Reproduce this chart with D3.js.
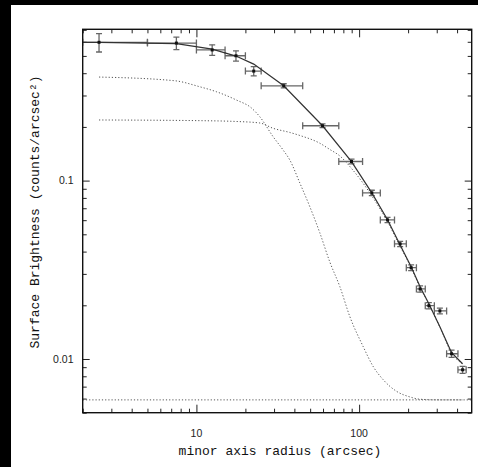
<!DOCTYPE html>
<html><head><meta charset="utf-8">
<script src="https://cdn.jsdelivr.net/npm/d3@7"></script>
<style>html,body{margin:0;padding:0;background:#000;}svg{display:block;}</style>
</head><body>
<svg id="c" width="478" height="467"></svg>
<script>
// ---- data ----
const xData = [2.52, 7.53, 12.5, 17.5, 22.5, 34.4, 59.6, 89.8, 119.7, 149.5, 178.7, 208.8, 237, 268.3, 313.6, 370, 432.5];
const xLo   = [2, 5, 10, 15, 20, 25, 45, 75, 105, 135, 165, 195, 225, 255, 290, 345, 405];
const xHi   = [5, 10, 15, 20, 25, 45, 75, 105, 135, 165, 195, 225, 255, 290, 345, 405, 455];
const yData = [0.596, 0.59, 0.540, 0.501, 0.411, 0.340, 0.203, 0.128, 0.0853, 0.0602, 0.0442, 0.0325, 0.0247, 0.0199, 0.0186, 0.0107, 0.0087];
const yErr  = [0.07, 0.048, 0.037, 0.033, 0.025, 0.009, 0.005, 0.004, 0.003, 0.002, 0.0015, 0.0012, 0.001, 0.0008, 0.0007, 0.0005, 0.0004];

const modelX     = [2, 2.52, 7.53, 12.5, 17.5, 22.5, 34.4, 59.6, 89.8, 119.7, 149.5, 178.7, 208.8, 237, 268.3, 313.6, 370, 432.5];
const modelTotal = [0.5955, 0.5955, 0.586, 0.546, 0.499, 0.450, 0.340, 0.203, 0.1278, 0.0853, 0.0603, 0.0436, 0.0329, 0.0254, 0.0204, 0.01517, 0.01084, 0.00941];

const coreX = [2.52, 7.36, 10.47, 13.27, 17.62, 21.79, 24.51, 29.59, 34.09, 37.48, 43.18, 49.75, 57.33, 66.04, 76.08, 87.66, 105.8, 121.9, 140.5, 169.8, 205.0, 236.2, 313.5, 434.3];
const coreY = [0.3806, 0.3629, 0.3359, 0.3149, 0.2829, 0.2553, 0.2282, 0.1764, 0.1485, 0.1306, 0.0971, 0.0715, 0.0510, 0.0350, 0.0255, 0.0173, 0.01176, 0.00909, 0.00766, 0.00659, 0.00613, 0.00595, 0.0059, 0.0059];

const envX = [2.52, 10.47, 17.62, 24.51, 29.59, 37.48, 43.18, 57.33, 66.04, 76.08, 89.8, 119.7, 149.5, 178.7, 208.8, 237, 268.3, 313.6, 370, 432.5];
const envY = [0.2187, 0.2168, 0.2145, 0.2104, 0.1965, 0.1862, 0.1791, 0.1620, 0.1495, 0.1375, 0.1170, 0.0821, 0.0588, 0.0428, 0.0325, 0.0252, 0.0203, 0.0151, 0.0108, 0.0094];

const bgLevel = 0.0059;

const xTickLabels = ["10", "100"];
const yTickLabels = ["0.01", "0.1"];
const xTitle = "minor axis radius (arcsec)";
const yTitle = "Surface Brightness (counts/arcsec\u00B2)";

// ---- layout ----
const svg = d3.select("#c");
svg.append("rect").attr("x", 11).attr("y", 5).attr("width", 467).attr("height", 462).attr("fill", "#fff");

const L = 82.7, R = 471.7, T = 29.3, B = 412.7;
const x = d3.scaleLog().domain([2, 492]).range([L, R]);
const y = d3.scaleLog().domain([0.005, 0.705]).range([B, T]);

const isMajor = v => Math.abs(Math.log10(v) - Math.round(Math.log10(v))) < 1e-9;
const xt = x.ticks();
const yt = y.ticks();
const xMaj = xt.filter(isMajor), xMin = xt.filter(v => !isMajor(v));
const yMaj = yt.filter(isMajor), yMin = yt.filter(v => !isMajor(v));

function ax(gen, scale, vals, size, tx, ty) {
  const g = svg.append("g").attr("transform", `translate(${tx},${ty})`)
    .call(gen(scale).tickValues(vals).tickSizeInner(-size).tickSizeOuter(0).tickFormat(""));
  g.select(".domain").remove();
  g.selectAll("line").attr("stroke", "#222").attr("stroke-width", 1);
  return g;
}
ax(d3.axisBottom, x, xMaj, 8, 0, B); ax(d3.axisBottom, x, xMin, 4, 0, B);
ax(d3.axisTop, x, xMaj, 8, 0, T);    ax(d3.axisTop, x, xMin, 4, 0, T);
ax(d3.axisLeft, y, yMaj, 7, L, 0);   ax(d3.axisLeft, y, yMin, 4, L, 0);
ax(d3.axisRight, y, yMaj, 7, R, 0);  ax(d3.axisRight, y, yMin, 4, R, 0);

// tick labels
svg.append("g").selectAll("text").data(xMaj).join("text")
  .attr("x", d => x(d)).attr("y", 437).attr("text-anchor", "middle")
  .attr("font-family", "Liberation Sans, Arial, sans-serif").attr("font-size", 10.5).attr("fill", "#222")
  .text((d, i) => xTickLabels[i]);
svg.append("g").selectAll("text").data(yMaj).join("text")
  .attr("x", 73.5).attr("y", d => y(d)).attr("dy", "0.36em").attr("text-anchor", "end")
  .attr("font-family", "Liberation Sans, Arial, sans-serif").attr("font-size", 10.5).attr("fill", "#222")
  .text((d, i) => yTickLabels[i]);

// titles
svg.append("text").attr("x", 280).attr("y", 455).attr("text-anchor", "middle")
  .attr("font-family", "Liberation Mono, monospace").attr("font-size", 13).attr("fill", "#111").text(xTitle);
svg.append("text").attr("transform", "translate(38.5,212) rotate(-90)").attr("text-anchor", "middle")
  .attr("font-family", "Liberation Mono, monospace").attr("font-size", 13).attr("fill", "#111").text(yTitle);

// clip
svg.append("clipPath").attr("id", "clp").append("rect").attr("x", L).attr("y", T).attr("width", R - L).attr("height", B - T);
const plot = svg.append("g").attr("clip-path", "url(#clp)");

// dotted components
const dotted = (xs, ys) => d3.line().x((d, i) => x(xs[i])).y((d, i) => y(ys[i])).curve(d3.curveMonotoneX)(xs);
plot.append("path").attr("d", d3.line()([[x(2), y(bgLevel)], [x(492), y(bgLevel)]]))
  .attr("fill", "none").attr("stroke", "#555").attr("stroke-width", 1).attr("stroke-dasharray", "1.2,2");
plot.append("path").attr("d", dotted(coreX, coreY))
  .attr("fill", "none").attr("stroke", "#555").attr("stroke-width", 1).attr("stroke-dasharray", "1.2,2");
plot.append("path").attr("d", dotted(envX, envY))
  .attr("fill", "none").attr("stroke", "#555").attr("stroke-width", 1).attr("stroke-dasharray", "1.2,2");

// error bars
const eb = plot.append("g").attr("stroke", "#666").attr("stroke-width", 1.3).attr("fill", "none");
xData.forEach((xv, i) => {
  const cx = x(xv), cy = y(yData[i]);
  const x0 = x(xLo[i]), x1 = x(xHi[i]);
  const y0 = y(yData[i] - yErr[i]), y1 = y(yData[i] + yErr[i]);
  eb.append("line").attr("x1", x0).attr("x2", x1).attr("y1", cy).attr("y2", cy);
  eb.append("line").attr("x1", x0).attr("x2", x0).attr("y1", cy - 3.5).attr("y2", cy + 3.5);
  eb.append("line").attr("x1", x1).attr("x2", x1).attr("y1", cy - 3.5).attr("y2", cy + 3.5);
  eb.append("line").attr("x1", cx).attr("x2", cx).attr("y1", y0).attr("y2", y1);
  eb.append("line").attr("x1", cx - 3).attr("x2", cx + 3).attr("y1", y0).attr("y2", y0);
  eb.append("line").attr("x1", cx - 3).attr("x2", cx + 3).attr("y1", y1).attr("y2", y1);
});

// model line
plot.append("path")
  .attr("d", d3.line().x((d, i) => x(modelX[i])).y((d, i) => y(modelTotal[i]))(modelX))
  .attr("fill", "none").attr("stroke", "#333").attr("stroke-width", 1.2);

// points
plot.append("g").selectAll("rect").data(xData).join("rect")
  .attr("x", (d) => x(d) - 1.5).attr("y", (d, i) => y(yData[i]) - 1.5)
  .attr("width", 3).attr("height", 3).attr("fill", "#111");

// frame
svg.append("rect").attr("x", L).attr("y", T).attr("width", R - L).attr("height", B - T)
  .attr("fill", "none").attr("stroke", "#111").attr("stroke-width", 1.4);
</script>
</body></html>
